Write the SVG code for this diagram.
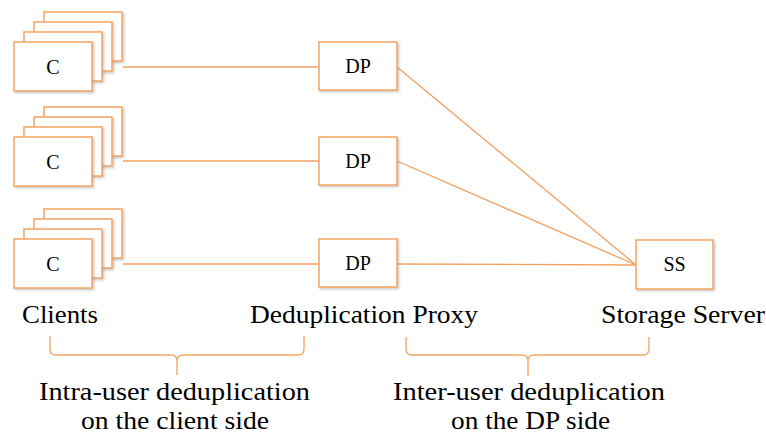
<svg xmlns="http://www.w3.org/2000/svg" width="766" height="437" viewBox="0 0 766 437">
<style>
.box{fill:#fff;stroke:#F5A560;stroke-width:1.5;filter:url(#sh)}
.conn{stroke:#F2A05E;stroke-width:1.3;fill:none}
.brace{stroke:#F5A560;stroke-width:1.3;fill:none}
.nt{font-family:"Liberation Serif","Times New Roman",serif;font-size:20px;fill:#000;text-anchor:middle}
.lab{font-family:"Liberation Serif","Times New Roman",serif;font-size:25px;fill:#000}
</style>
<defs>
<filter id="sh" x="-10%" y="-10%" width="130%" height="130%">
<feDropShadow dx="1.5" dy="1.5" stdDeviation="1" flood-color="#888" flood-opacity="0.45"/>
</filter>
</defs>
<rect width="766" height="437" fill="#fff"/>
<g id="connectors">
<line class="conn" x1="123" y1="67" x2="319" y2="67"/>
<line class="conn" x1="123" y1="161" x2="319" y2="161"/>
<line class="conn" x1="123" y1="264" x2="319" y2="264"/>
<line class="conn" x1="397" y1="67" x2="636" y2="265"/>
<line class="conn" x1="397" y1="161" x2="636" y2="265"/>
<line class="conn" x1="397" y1="264" x2="636" y2="265"/>
</g>
<g id="clients1">
<rect class="box" x="44" y="12" width="78" height="49"/>
<rect class="box" x="34" y="22" width="78" height="49"/>
<rect class="box" x="24" y="32" width="78" height="49"/>
<rect class="box" x="14" y="42" width="78" height="49"/>
<text class="nt" x="53" y="74">C</text>
</g>
<g id="clients2">
<rect class="box" x="44" y="107" width="78" height="49"/>
<rect class="box" x="34" y="117" width="78" height="49"/>
<rect class="box" x="24" y="127" width="78" height="49"/>
<rect class="box" x="14" y="137" width="78" height="49"/>
<text class="nt" x="53" y="169">C</text>
</g>
<g id="clients3">
<rect class="box" x="44" y="209" width="78" height="49"/>
<rect class="box" x="34" y="219" width="78" height="49"/>
<rect class="box" x="24" y="229" width="78" height="49"/>
<rect class="box" x="14" y="239" width="78" height="49"/>
<text class="nt" x="53" y="271">C</text>
</g>
<g id="dp1">
<rect class="box" x="319" y="42" width="78" height="48"/>
<text class="nt" x="358" y="73">DP</text>
</g>
<g id="dp2">
<rect class="box" x="319" y="137" width="78" height="48"/>
<text class="nt" x="358" y="168">DP</text>
</g>
<g id="dp3">
<rect class="box" x="319" y="239" width="78" height="48"/>
<text class="nt" x="358" y="270">DP</text>
</g>
<g id="ss">
<rect class="box" x="636" y="240" width="77" height="49"/>
<text class="nt" x="674.5" y="271">SS</text>
</g>
<g id="labels">
<text class="lab" x="22" y="323" textLength="76" lengthAdjust="spacingAndGlyphs">Clients</text>
<text class="lab" x="250" y="323" textLength="228" lengthAdjust="spacingAndGlyphs">Deduplication Proxy</text>
<text class="lab" x="601" y="323" textLength="164" lengthAdjust="spacingAndGlyphs">Storage Server</text>
<text class="lab" x="39" y="400" textLength="271" lengthAdjust="spacingAndGlyphs">Intra-user deduplication</text>
<text class="lab" x="81" y="429" textLength="188" lengthAdjust="spacingAndGlyphs">on the client side</text>
<text class="lab" x="393" y="400" textLength="272" lengthAdjust="spacingAndGlyphs">Inter-user deduplication</text>
<text class="lab" x="451" y="429" textLength="159" lengthAdjust="spacingAndGlyphs">on the DP side</text>
</g>
<g id="braces">
<path class="brace" d="M50,336 L50,349 Q50,355 56,355 L171,355 Q177,355 177,361 L177,375 M177,361 Q177,355 183,355 L298,355 Q304,355 304,349 L304,336"/>
<path class="brace" d="M406,337 L406,349 Q406,355 412,355 L522,355 Q528,355 528,361 L528,376 M528,361 Q528,355 534,355 L643,355 Q649,355 649,349 L649,337"/>
</g>
</svg>
